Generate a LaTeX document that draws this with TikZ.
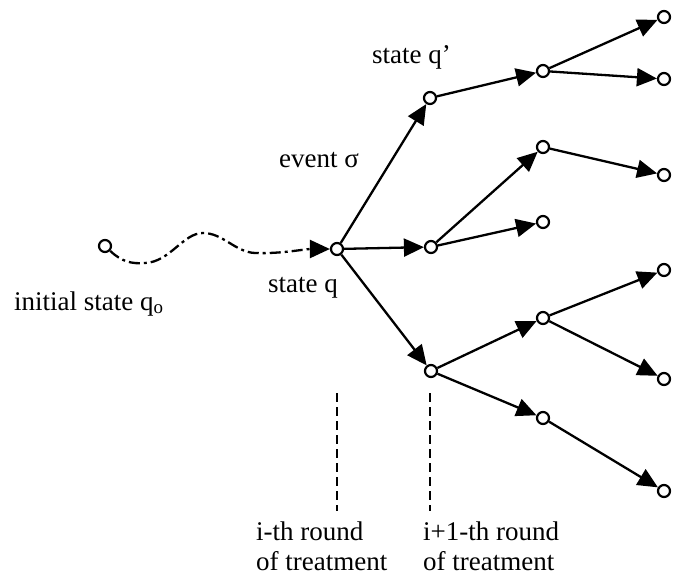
\documentclass[tikz,border=0pt]{standalone}
\usepackage{fontspec}
\setmainfont{Liberation Serif}
\usetikzlibrary{arrows.meta}

\begin{document}
\begin{tikzpicture}[x=1pt,y=-1pt,
  state/.style={circle,draw,fill=white,line width=2.2pt,minimum size=12pt,inner sep=0pt},
  trans/.style={line width=2.3pt,-{Triangle[length=20pt,width=18pt]}},
  wave/.style={line width=2.3pt,dash pattern=on 11pt off 4pt on 3pt off 4pt,-{Triangle[length=20pt,width=18pt]}},
  roundline/.style={line width=2.2pt,dash pattern=on 9pt off 5pt},
  lbl/.style={anchor=base west,inner sep=0pt,font=\fontsize{27}{30}\selectfont},
  lbl2/.style={anchor=north west,inner sep=0pt,align=left,font=\fontsize{27}{30}\selectfont}]
  \useasboundingbox (0,0) rectangle (679,587);

  % states
  \node[state] (q0) at (105,246) {};
  \node[state] (q)  at (337,249) {};
  \node[state] (qp) at (430,98) {};
  \node[state] (m)  at (431,247) {};
  \node[state] (b)  at (431,371) {};

  \node[state] (a1) at (543,71) {};
  \node[state] (a2) at (543,147) {};
  \node[state] (a3) at (543,222) {};
  \node[state] (a4) at (543,318) {};
  \node[state] (a5) at (543,418) {};

  \node[state] (c1) at (664,17) {};
  \node[state] (c2) at (664,79) {};
  \node[state] (c3) at (664,175) {};
  \node[state] (c4) at (664,270) {};
  \node[state] (c5) at (664,379) {};
  \node[state] (c6) at (664,491) {};

  % path from the initial state to state q
  \coordinate (w1) at (145,263);
  \coordinate (w2) at (203,233);
  \coordinate (w3) at (255,253);
  \draw[wave] (q0) .. controls (122,262) and (132,264) .. (w1)
    .. controls (170,262) and (183,233) .. (w2)
    .. controls (223,233) and (235,252) .. (w3)
    .. controls (280,254) and (305,249) .. (q);

  % transitions
  \draw[trans] (q) -- (qp);
  \draw[trans] (q) -- (m);
  \draw[trans] (q) -- (b);
  \draw[trans] (qp) -- (a1);
  \draw[trans] (m) -- (a2);
  \draw[trans] (m) -- (a3);
  \draw[trans] (b) -- (a4);
  \draw[trans] (b) -- (a5);
  \draw[trans] (a1) -- (c1);
  \draw[trans] (a1) -- (c2);
  \draw[trans] (a2) -- (c3);
  \draw[trans] (a4) -- (c4);
  \draw[trans] (a4) -- (c5);
  \draw[trans] (a5) -- (c6);

  % rounds of treatment
  \coordinate (r1t) at (337,393);
  \coordinate (r1b) at (337,511);
  \coordinate (r2t) at (430,393);
  \coordinate (r2b) at (430,511);
  \draw[roundline] (r1t) -- (r1b);
  \draw[roundline] (r2t) -- (r2b);

  % labels
  \node[lbl] (t0) at (14,310) {initial state q\textsubscript{o}};
  \node[lbl] (tq) at (268,292) {state q};
  \node[lbl] (te) at (279,167) {event σ};
  \node[lbl] (tqp) at (372,63) {state q’};
  \node[lbl2] (ti) at (256,522) {i-th round\\of treatment};
  \node[lbl2] (tj) at (423,522) {i+1-th round\\of treatment};
\end{tikzpicture}
\end{document}
